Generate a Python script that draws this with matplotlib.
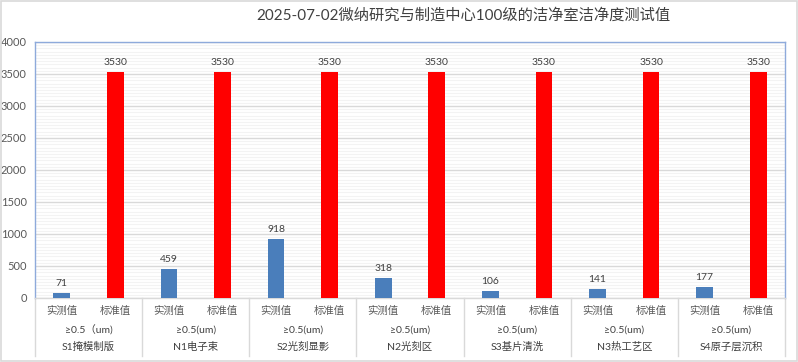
import matplotlib
matplotlib.use("Agg")
import matplotlib.pyplot as plt
from matplotlib.patches import Rectangle
from matplotlib.lines import Line2D
import numpy as np

plt.rcParams['font.family'] = ['Lato', 'Noto Sans CJK SC', 'DejaVu Sans']

title = "2025-07-02微纳研究与制造中心100级的洁净室洁净度测试值"
groups = ["S1掩模制版", "N1电子束", "S2光刻显影", "N2光刻区", "S3基片清洗", "N3热工艺区", "S4原子层沉积"]
size_labels = ["≥0.5（um)", "≥0.5(um)", "≥0.5(um)", "≥0.5(um)", "≥0.5(um)", "≥0.5(um)", "≥0.5(um)"]
bar_labels = ["实测值", "标准值"]
measured = [71, 459, 918, 318, 106, 141, 177]
standard = [3530, 3530, 3530, 3530, 3530, 3530, 3530]
yticks = [0, 500, 1000, 1500, 2000, 2500, 3000, 3500, 4000]

fig = plt.figure(figsize=(7.98, 3.62), dpi=100)
W, H = 798, 362
ax = fig.add_axes([35 / W, (H - 298) / H, 750 / W, 256 / H])

x = np.arange(len(groups))
off = 0.25
bw = 0.155
ax.bar(x - off, measured, bw, color="#4a7ebb", zorder=3)
ax.bar(x + off, standard, bw, color="#ff0000", zorder=3)

for xi, v in zip(x, measured):
    ax.text(xi - off, v + 80, str(v), ha="center", va="bottom", fontsize=7.5, color="#404040")
for xi, v in zip(x, standard):
    ax.text(xi + off, v + 80, str(v), ha="center", va="bottom", fontsize=7.5, color="#404040")

ax.set_xlim(-0.5, len(groups) - 0.5)
ax.set_ylim(0, 4000)
ax.set_yticks(yticks)
ax.set_yticklabels([str(t) for t in yticks], fontsize=8, color="#595959")
ax.set_yticks(np.arange(0, 4001, 50), minor=True)
ax.tick_params(axis="y", which="both", length=0, pad=6)
ax.set_xticks([])
ax.grid(axis="y", which="major", color="#d9d9d9", linewidth=1.0, zorder=1)
ax.grid(axis="y", which="minor", color="#f3f3f3", linewidth=0.8, zorder=0)
for s in ["left", "right", "top"]:
    ax.spines[s].set_color("#8eaadb")
    ax.spines[s].set_linewidth(1.0)
ax.spines["bottom"].set_color("#d9d9d9")
ax.spines["bottom"].set_linewidth(1.0)

trans = ax.get_xaxis_transform()
lab_color = "#595959"
for i in range(len(groups)):
    ax.text(i - off, -0.05, bar_labels[0], transform=trans, ha="center", va="center",
            fontsize=7.5, color=lab_color)
    ax.text(i + off, -0.05, bar_labels[1], transform=trans, ha="center", va="center",
            fontsize=7.5, color=lab_color)
    ax.text(i, -0.125, size_labels[i], transform=trans, ha="center", va="center",
            fontsize=7.5, color="#404040")
    ax.text(i, -0.19, groups[i], transform=trans, ha="center", va="center",
            fontsize=7.5, color="#404040")
for b in np.arange(-0.5, len(groups), 1.0):
    ax.add_line(Line2D([b, b], [0, -0.225], transform=trans, color="#d9d9d9",
                       linewidth=1.0, clip_on=False))

fig.text(463 / W, 1 - 15 / H, title, ha="center", va="center", fontsize=11, color="#404040")

fig.patches.append(Rectangle((1 / W, 1 / H), 1 - 2 / W, 1 - 2 / H, transform=fig.transFigure,
                             fill=False, edgecolor="#d9d9d9", linewidth=1.2))

fig.savefig("out.png", dpi=100)
